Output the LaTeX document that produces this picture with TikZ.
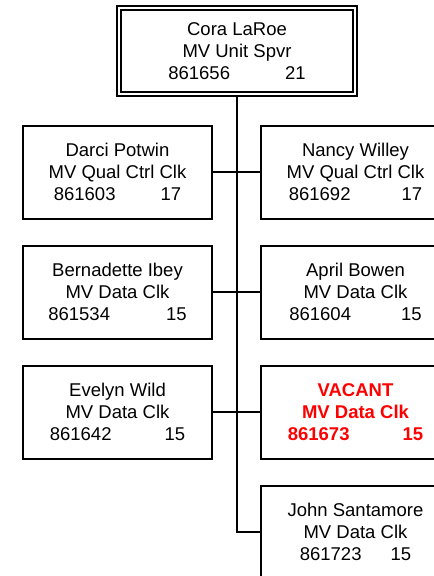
\documentclass[tikz,border=0pt]{standalone}
\usepackage{fontspec}
\setmainfont{Liberation Sans}
\usetikzlibrary{positioning}
\definecolor{vacantred}{HTML}{FF0000}
\tikzset{
  posbox/.style={
    rectangle, draw=black, line width=2pt, fill=white,
    minimum width=189pt, minimum height=93pt, inner sep=0pt,
    align=center, font=\fontsize{18.5}{22}\selectfont
  },
  headbox/.style={
    posbox, double, double distance=2.6pt, line width=1.8pt,
    minimum width=235.9pt, minimum height=85.9pt
  },
  vacantbox/.style={
    posbox, text=vacantred,
    font=\fontsize{18.5}{22}\selectfont\bfseries
  },
  link/.style={line width=2pt}
}
\newcommand{\posno}[3]{#1\hspace{#3}#2}

\begin{document}
\begin{tikzpicture}[x=1pt, y=1pt]
    \useasboundingbox (0,0) rectangle (434,-576);

    % Supervisor
    \node[headbox] (cora) at (237,-51)
      {Cora LaRoe\\MV Unit Spvr\\\posno{861656}{21}{55pt}};

    % Left column
    \node[posbox] (darci) at (117.5,-172)
      {Darci Potwin\\MV Qual Ctrl Clk\\\posno{861603}{17}{45pt}};
    \node[posbox, below=25pt of darci] (bernadette)
      {Bernadette Ibey\\MV Data Clk\\\posno{861534}{15}{56pt}};
    \node[posbox, below=25pt of bernadette] (evelyn)
      {Evelyn Wild\\MV Data Clk\\\posno{861642}{15}{53pt}};

    % Right column
    \node[posbox, right=47pt of darci] (nancy)
      {Nancy Willey\\MV Qual Ctrl Clk\\\posno{861692}{17}{51pt}};
    \node[posbox, right=47pt of bernadette] (april)
      {April Bowen\\MV Data Clk\\\posno{861604}{15}{50pt}};
    \node[vacantbox, right=47pt of evelyn] (vacant)
      {VACANT\\MV Data Clk\\\posno{861673}{15}{53pt}};
    \node[posbox, below=25pt of vacant] (john)
      {John Santamore\\MV Data Clk\\\posno{861723}{15}{29pt}};

    % Trunk
    \coordinate (trunkend) at (cora.south |- john.west);
    \draw[link] (cora.south) -- (trunkend) -- (john.west);

    % Branches
    \draw[link] (darci) -- (nancy);
    \draw[link] (bernadette) -- (april);
    \draw[link] (evelyn) -- (vacant);
\end{tikzpicture}
\end{document}
